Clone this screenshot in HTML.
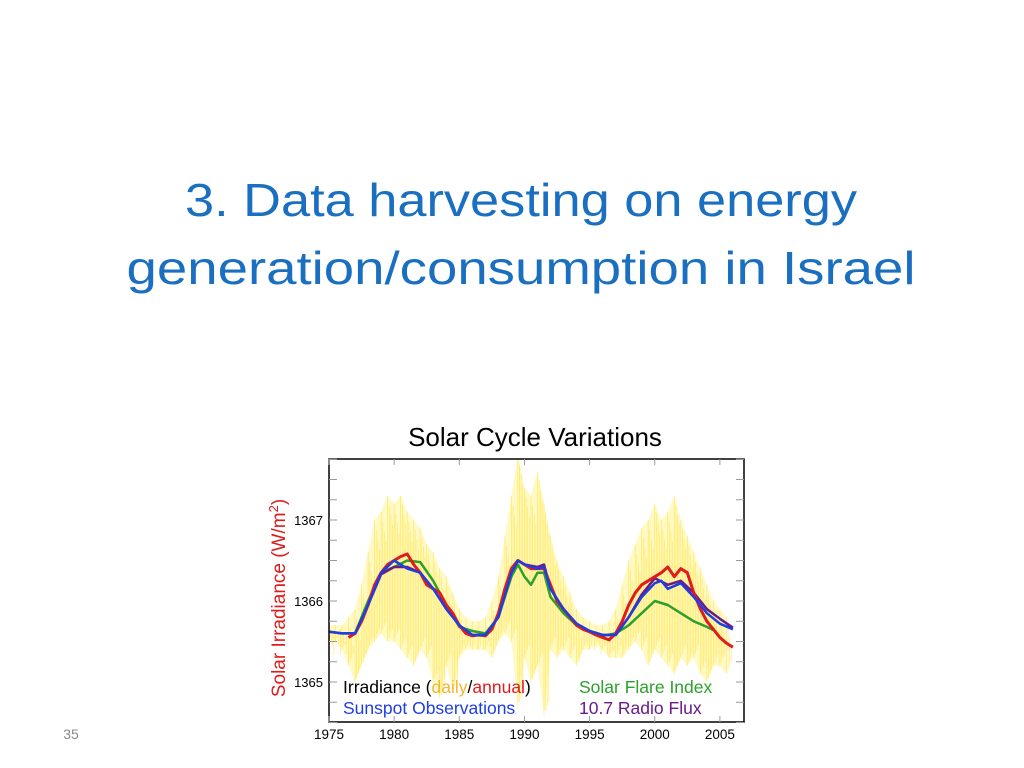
<!DOCTYPE html>
<html><head><meta charset="utf-8"><style>
body{margin:0;width:1024px;height:768px;background:#fff;overflow:hidden}
svg{display:block}
</style></head><body>
<svg id="page" width="1024" height="768" xmlns="http://www.w3.org/2000/svg" font-family="Liberation Sans, sans-serif">
<text x="521" y="216" text-anchor="middle" font-size="46" fill="#1a6fc0" textLength="672" lengthAdjust="spacingAndGlyphs">3. Data harvesting  on energy</text>
<text x="521" y="284" text-anchor="middle" font-size="46" fill="#1a6fc0" textLength="789" lengthAdjust="spacingAndGlyphs">generation/consumption  in  Israel</text>
<text x="71" y="739" text-anchor="middle" font-size="14" fill="#8a8a8a">35</text>
<text x="535" y="446" text-anchor="middle" font-size="26" fill="#000">Solar Cycle Variations</text>
<text transform="translate(285,598) rotate(-90)" text-anchor="middle" font-size="19" fill="#e01b1b">Solar Irradiance (W/m<tspan font-size="13" dy="-7">2</tspan><tspan dy="7">)</tspan></text>
<g id="plot"></g>
<rect x="329" y="459" width="415" height="263" fill="none" stroke="#000" stroke-width="1.5"/>
<g font-size="17.5">
<text x="343" y="693" fill="#000">Irradiance (<tspan fill="#f5b52e">daily</tspan>/<tspan fill="#e01b1b">annual</tspan>)</text>
<text x="343" y="714" fill="#1f3ee0">Sunspot Observations</text>
<text x="579" y="693" fill="#2ca02c">Solar Flare Index</text>
<text x="579" y="714" fill="#6a1a8a">10.7 Radio Flux</text>
</g>
</svg>
<script>
const xTicks=[1975,1980,1985,1990,1995,2000,2005];
const yTicks=[1365,1366,1367];
const dailyYears=[1975,1975.5,1976,1976.5,1977,1977.5,1978,1978.5,1979,1979.5,1980,1980.5,1981,1981.5,1982,1982.5,1983,1983.5,1984,1984.5,1985,1985.5,1986,1986.5,1987,1987.5,1988,1988.5,1989,1989.5,1990,1990.5,1991,1991.5,1992,1992.5,1993,1993.5,1994,1994.5,1995,1995.5,1996,1996.5,1997,1997.5,1998,1998.5,1999,1999.5,2000,2000.5,2001,2001.5,2002,2002.5,2003,2003.5,2004,2004.5,2005,2005.5];
const dailyHigh=[1365.7,1365.7,1365.7,1365.8,1365.9,1366.2,1366.6,1367.0,1367.1,1367.3,1367.2,1367.3,1367.1,1367.0,1366.9,1366.7,1366.6,1366.4,1366.3,1366.1,1365.9,1365.8,1365.75,1365.75,1365.8,1366.0,1366.3,1366.8,1367.3,1367.8,1367.4,1367.3,1367.6,1367.2,1366.8,1366.5,1366.3,1366.1,1365.9,1365.8,1365.75,1365.7,1365.7,1365.75,1365.9,1366.2,1366.5,1366.7,1366.9,1367.0,1367.2,1367.0,1367.1,1367.3,1367.0,1366.8,1366.6,1366.4,1366.2,1366.0,1365.9,1365.8];
const dailyLow=[1365.5,1365.5,1365.4,1365.2,1365.0,1365.2,1365.4,1365.5,1365.6,1365.5,1365.5,1365.4,1365.3,1365.2,1365.4,1365.3,1365.0,1364.8,1365.2,1364.9,1365.3,1365.4,1365.4,1365.4,1365.4,1365.3,1365.5,1365.6,1365.5,1364.7,1365.3,1365.0,1365.2,1364.6,1365.4,1365.3,1365.4,1365.3,1365.2,1365.4,1365.4,1365.45,1365.4,1365.3,1365.3,1365.3,1365.4,1365.5,1365.4,1365.2,1365.4,1365.3,1365.2,1365.1,1365.3,1365.2,1365.3,1365.1,1365.0,1365.2,1365.2,1365.1];
const redYears=[1976.5,1977,1977.5,1978,1978.5,1979,1979.5,1980,1980.5,1981,1981.5,1982,1982.5,1983,1983.5,1984,1984.5,1985,1985.5,1986,1986.5,1987,1987.5,1988,1988.5,1989,1989.5,1990,1990.5,1991,1991.5,1992,1992.5,1993,1993.5,1994,1994.5,1995,1995.5,1996,1996.5,1997,1997.5,1998,1998.5,1999,1999.5,2000,2000.5,2001,2001.5,2002,2002.5,2003,2003.5,2004,2004.5,2005,2005.5,2006];
const redValues=[1365.55,1365.6,1365.75,1365.95,1366.2,1366.35,1366.45,1366.5,1366.55,1366.58,1366.45,1366.35,1366.2,1366.15,1366.1,1365.95,1365.85,1365.7,1365.6,1365.57,1365.58,1365.57,1365.65,1365.85,1366.15,1366.4,1366.5,1366.45,1366.4,1366.4,1366.4,1366.2,1366.0,1365.9,1365.8,1365.7,1365.65,1365.62,1365.58,1365.55,1365.52,1365.6,1365.75,1365.95,1366.1,1366.2,1366.25,1366.3,1366.35,1366.42,1366.3,1366.4,1366.35,1366.1,1365.9,1365.75,1365.65,1365.55,1365.48,1365.43];
const greenYears=[1977,1978,1979,1980,1981,1982,1983,1984,1985,1986,1987,1988,1989,1989.5,1990,1990.5,1991,1991.5,1992,1993,1994,1995,1996,1997,1998,1999,2000,2001,2002,2003,2004,2004.5];
const greenValues=[1365.6,1366.0,1366.35,1366.42,1366.5,1366.48,1366.25,1365.95,1365.68,1365.63,1365.6,1365.8,1366.3,1366.45,1366.3,1366.2,1366.35,1366.35,1366.05,1365.85,1365.7,1365.62,1365.57,1365.6,1365.7,1365.85,1366.0,1365.95,1365.85,1365.75,1365.68,1365.64];
const purpleYears=[1975,1976,1977,1978,1979,1980,1981,1982,1983,1984,1985,1986,1987,1988,1989,1989.5,1990,1991,1991.5,1992,1993,1994,1995,1996,1997,1998,1999,2000,2001,2002,2003,2004,2005,2006];
const purpleValues=[1365.62,1365.6,1365.6,1365.95,1366.33,1366.42,1366.42,1366.35,1366.15,1365.92,1365.7,1365.58,1365.58,1365.8,1366.35,1366.5,1366.45,1366.42,1366.45,1366.15,1365.9,1365.72,1365.63,1365.58,1365.58,1365.8,1366.08,1366.28,1366.2,1366.25,1366.1,1365.9,1365.78,1365.67];
const blueYears=[1975,1976,1977,1978,1979,1980,1981,1982,1983,1984,1985,1986,1987,1988,1989,1989.5,1990,1991,1991.5,1992,1993,1994,1995,1996,1997,1998,1999,2000,2000.5,2001,2002,2003,2004,2005,2006];
const blueValues=[1365.62,1365.6,1365.6,1365.95,1366.35,1366.5,1366.4,1366.35,1366.15,1365.9,1365.7,1365.58,1365.58,1365.8,1366.35,1366.5,1366.45,1366.4,1366.42,1366.15,1365.9,1365.72,1365.63,1365.58,1365.58,1365.8,1366.05,1366.22,1366.25,1366.15,1366.22,1366.05,1365.85,1365.72,1365.65];

const NS='http://www.w3.org/2000/svg';
const X0=329,X1=744,Y0=459,Y1=722;
function xs(yr){return 329+(yr-1975)*13.03;}
function ys(v){return 601-(v-1366)*81;}
const plot=document.getElementById('plot');
const page=document.getElementById('page');
function mk(tag,attrs,parent){const e=document.createElementNS(NS,tag);for(const k in attrs)e.setAttribute(k,attrs[k]);(parent||plot).appendChild(e);return e;}
const defs=mk('defs',{},page);
const cp=mk('clipPath',{id:'clip'},defs);
mk('rect',{x:X0,y:Y0,width:X1-X0,height:Y1-Y0},cp);
plot.setAttribute('clip-path','url(#clip)');
for(let v=1364.5;v<=1367.75;v+=0.25){
 const t=mk('line',{x1:X0,x2:X0+8,y1:ys(v),y2:ys(v),stroke:'#999','stroke-width':1},page);
 
 
 const t2=mk('line',{x1:X1-8,x2:X1,y1:ys(v),y2:ys(v),stroke:'#999','stroke-width':1},page);
 
 
}
yTicks.forEach(v=>{
 const t=mk('text',{x:323,y:ys(v)+5,'text-anchor':'end','font-size':13,fill:'#000'},page);
 t.textContent=v;
 
 
});
xTicks.forEach(yr=>{
 const t=mk('text',{x:xs(yr),y:739,'text-anchor':'middle','font-size':13.5,fill:'#000'},page);
 t.textContent=yr;
 
 
 const l=mk('line',{x1:xs(yr),x2:xs(yr),y1:Y0,y2:Y0+6,stroke:'#999'},page);
 
 
 const l2=mk('line',{x1:xs(yr),x2:xs(yr),y1:Y1-6,y2:Y1,stroke:'#999'},page);
 
 
});
let topPath='',botPath='';
dailyYears.forEach((yr,i)=>{topPath+=(i?'L':'M')+xs(yr)+','+ys(dailyHigh[i]);});
for(let i=dailyYears.length-1;i>=0;i--)botPath+='L'+xs(dailyYears[i])+','+ys(dailyLow[i]);
const env=mk('path',{d:topPath+botPath+'Z',fill:'#fff27a','fill-opacity':0.45,stroke:'none'});


dailyYears.forEach((yr,i)=>{
 for(let k=0;k<4;k++){
  const x=xs(yr)+k*1.6;
  const l=mk('line',{x1:x,x2:x,y1:ys(dailyHigh[i]-k*0.12),y2:ys(dailyLow[i]+k*0.05),stroke:'#ffe44d','stroke-width':0.8,'stroke-opacity':0.7});
  
  
 }
});
function drawLine(years,vals,color,name,w){
 const d=years.map((yr,i)=>(i?'L':'M')+xs(yr).toFixed(1)+','+ys(vals[i]).toFixed(1)).join('');
 const p=mk('path',{d:d,fill:'none',stroke:color,'stroke-width':w,'stroke-linejoin':'round'});
 
 
}
drawLine(greenYears,greenValues,'#2ca02c','solar-flare-index-line',2.5);
drawLine(purpleYears,purpleValues,'#6a1a8a','radio-flux-line',2.5);
drawLine(redYears,redValues,'#e01b1b','annual-irradiance-line',3);
drawLine(blueYears,blueValues,'#1f3ee0','sunspot-line',2.5);
</script>
</body></html>
